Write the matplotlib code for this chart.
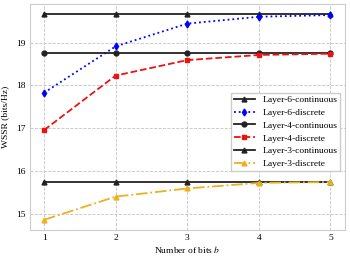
import matplotlib
matplotlib.use('Agg')
import matplotlib.pyplot as plt

plt.rcParams['font.family'] = ['Liberation Serif', 'DejaVu Serif']
plt.rcParams['mathtext.fontset'] = 'stix'

# Data
bits = [1, 2, 3, 4, 5]
l6_cont = [19.66, 19.66, 19.66, 19.66, 19.66]
l6_disc = [17.83, 18.91, 19.44, 19.60, 19.64]
l4_cont = [18.75, 18.75, 18.75, 18.75, 18.75]
l4_disc = [16.96, 18.23, 18.59, 18.71, 18.74]
l3_cont = [15.75, 15.75, 15.75, 15.75, 15.75]
l3_disc = [14.87, 15.41, 15.60, 15.73, 15.75]

fig, ax = plt.subplots(figsize=(3.5, 2.6), dpi=100)
lw = 1.3
ms = 3.5
ax.plot(bits, l6_cont, color='#222222', ls='-', marker='^', lw=lw, ms=ms, label='Layer-6-continuous')
ax.plot(bits, l6_disc, color='#0000ff', ls=':', marker='d', lw=lw, ms=ms, label='Layer-6-discrete')
ax.plot(bits, l4_cont, color='#222222', ls='-', marker='o', lw=lw, ms=ms, label='Layer-4-continuous')
ax.plot(bits, l4_disc, color='#ee1111', ls='--', marker='s', lw=lw, ms=ms, label='Layer-4-discrete')
ax.plot(bits, l3_cont, color='#222222', ls='-', marker='^', lw=lw, ms=ms, label='Layer-3-continuous')
ax.plot(bits, l3_disc, color='#edb120', ls='-.', marker='^', lw=lw, ms=ms, label='Layer-3-discrete')

ax.set_xticks(bits)
ax.set_yticks([15, 16, 17, 18, 19])
ax.tick_params(labelsize=6.8, length=0, pad=3)
ax.grid(True, ls='--', color='#c4c4c4', lw=0.6)
for s in ax.spines.values():
    s.set_color('#cccccc')
ax.set_xlabel('Number of bits $b$', fontsize=6.8, labelpad=1.5)
ax.set_ylabel('WSSR (bits/Hz)', fontsize=6.8, labelpad=5)
ax.legend(fontsize=6.8, loc='lower right', bbox_to_anchor=(1.0, 0.24),
          fancybox=False, edgecolor='#cccccc', framealpha=1.0,
          borderpad=0.3, handlelength=2.2, labelspacing=0.45)

fig.subplots_adjust(left=0.085, right=0.985, top=0.985, bottom=0.115)
fig.savefig('out.png')
